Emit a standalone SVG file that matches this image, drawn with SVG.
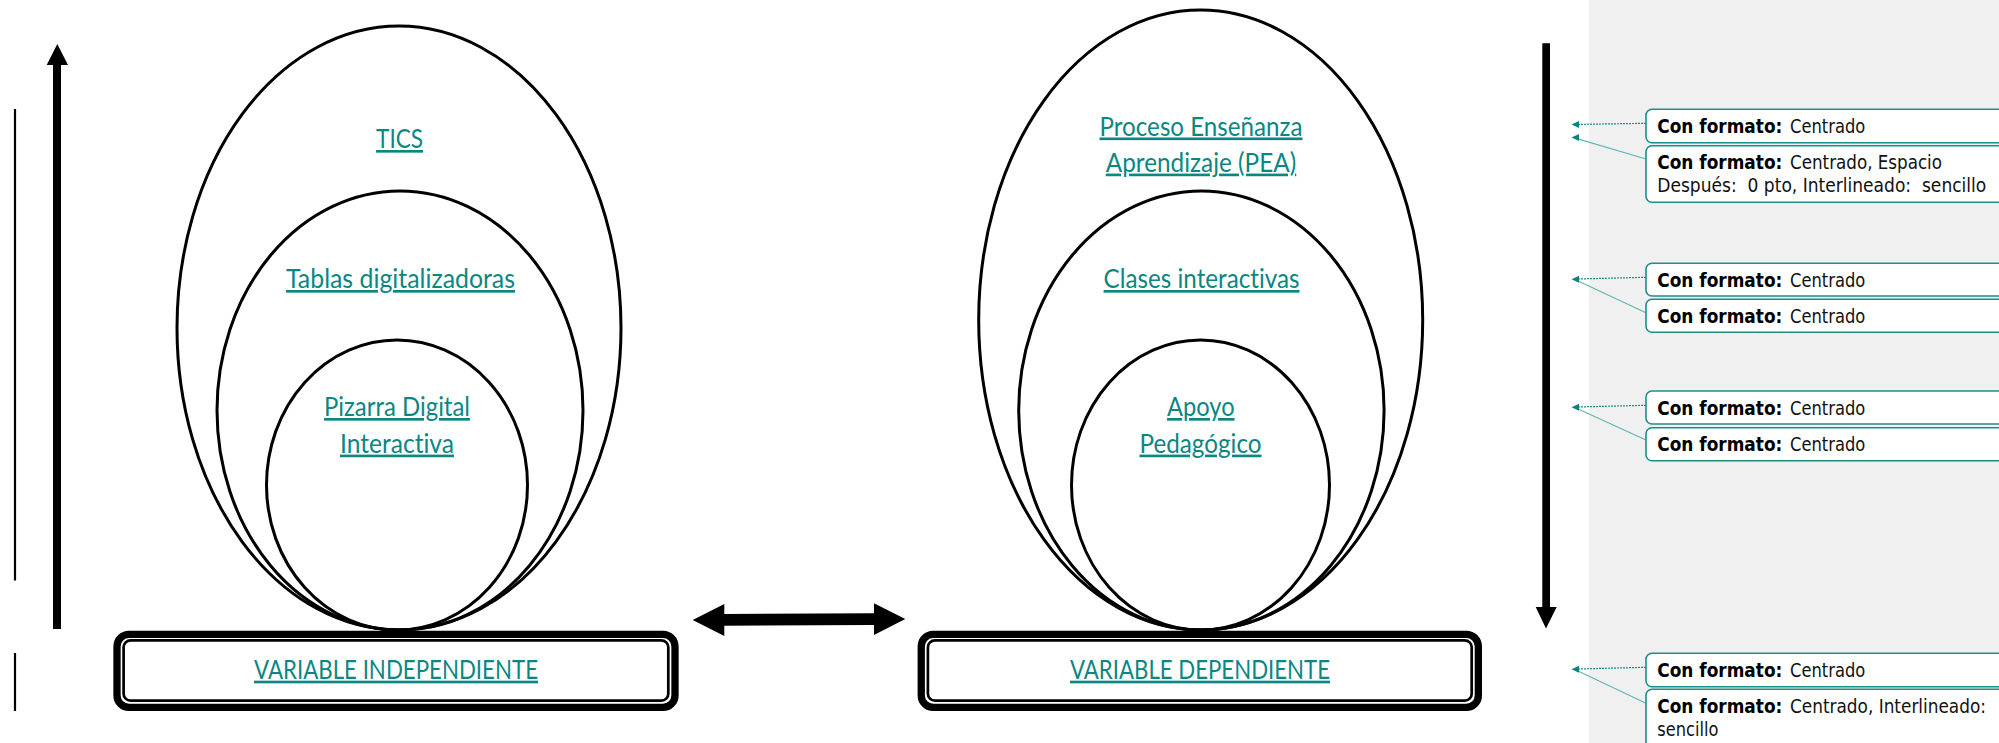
<svg xmlns="http://www.w3.org/2000/svg" width="1999" height="743" viewBox="0 0 1999 743">
  <style>
    .ell { fill: none; stroke: #000; stroke-width: 3; }
    .outerBox { fill: #fff; stroke: #000; stroke-width: 7.3; }
    .innerBox { fill: none; stroke: #000; stroke-width: 2.7; }
    .lbl { font-family: Lato, "Open Sans", "Liberation Sans", sans-serif; font-size: 26.5px; fill: #0b8783; text-decoration: underline; text-anchor: middle; font-variant-ligatures: none; }
    .cbox { fill: #fff; stroke: #1b8f89; stroke-width: 1.6; }
    .ct { font-family: "DejaVu Sans Condensed", "DejaVu Sans", "Liberation Sans", sans-serif; font-size: 19.5px; fill: #111; }
    .cb { font-family: "DejaVu Sans Condensed", "DejaVu Sans", "Liberation Sans", sans-serif; font-size: 19.5px; font-weight: bold; fill: #000; }
    .cl1 { stroke: #1b8f89; stroke-width: 1.2; stroke-dasharray: 2 1; fill: none; }
    .cl2 { stroke: #5fb8b3; stroke-width: 1.2; fill: none; }
    .ah { fill: #0d857f; }
  </style>

  <rect x="0" y="0" width="1999" height="743" fill="#fff"/>
  <rect id="panel" x="1589" y="0" width="410" height="743" fill="#f0f0f0"/>

  <g id="side-lines">
    <line x1="15" y1="109" x2="15" y2="580.5" stroke="#000" stroke-width="2.2"/>
    <line x1="15" y1="653" x2="15" y2="711" stroke="#000" stroke-width="2.2"/>
  </g>

  <g id="connectors">
    <polygon id="up-arrow" points="53,629 53,65 46.7,65 57.3,44 68,65 61,65 61,629" fill="#000"/>
    <polygon id="down-arrow" points="1542.3,43.3 1550,43.3 1550,607 1556.7,607 1546,628.5 1535.7,607 1542.3,607" fill="#000"/>
    <polygon id="double-arrow" points="692.7,620 724.3,604 724.3,614 874,613.3 874,603.3 905.3,619 874,635 874,625 724.3,625.7 724.3,636" fill="#000"/>
  </g>

  <g id="node-tics">
    <ellipse class="ell" cx="399" cy="328" rx="222" ry="302"/>
    <text class="lbl" x="399.6" y="148" textLength="47" lengthAdjust="spacingAndGlyphs">TICS</text>
  </g>
  <g id="node-tablas">
    <ellipse class="ell" cx="400" cy="410.5" rx="183" ry="219.5"/>
    <text class="lbl" x="400.5" y="288" textLength="229" lengthAdjust="spacingAndGlyphs">Tablas digitalizadoras</text>
  </g>
  <g id="node-pizarra">
    <ellipse class="ell" cx="397" cy="485" rx="130.5" ry="145"/>
    <text class="lbl" x="397" y="416" textLength="146" lengthAdjust="spacingAndGlyphs">Pizarra Digital</text>
    <text class="lbl" x="397" y="452.6" textLength="114" lengthAdjust="spacingAndGlyphs">Interactiva</text>
  </g>
  <g id="node-var-ind">
    <rect class="outerBox" x="117" y="634.4" width="558" height="73" rx="12"/>
    <rect class="innerBox" x="123.6" y="640.35" width="544.7" height="60.3" rx="7"/>
    <text class="lbl" x="396" y="678.7" textLength="284" lengthAdjust="spacingAndGlyphs">VARIABLE INDEPENDIENTE</text>
  </g>

  <g id="node-pea">
    <ellipse class="ell" cx="1200.7" cy="320" rx="222" ry="310"/>
    <text class="lbl" x="1201" y="135.5" textLength="203" lengthAdjust="spacingAndGlyphs">Proceso Enseñanza</text>
    <text class="lbl" x="1201" y="171.6" textLength="190.5" lengthAdjust="spacingAndGlyphs">Aprendizaje (PEA)</text>
  </g>
  <g id="node-clases">
    <ellipse class="ell" cx="1201.4" cy="410.5" rx="182.7" ry="219.5"/>
    <text class="lbl" x="1201.6" y="288" textLength="196" lengthAdjust="spacingAndGlyphs">Clases interactivas</text>
  </g>
  <g id="node-apoyo">
    <ellipse class="ell" cx="1200.5" cy="485" rx="129" ry="145"/>
    <text class="lbl" x="1200.8" y="416" textLength="67.5" lengthAdjust="spacingAndGlyphs">Apoyo</text>
    <text class="lbl" x="1200.5" y="452.6" textLength="122" lengthAdjust="spacingAndGlyphs">Pedagógico</text>
  </g>
  <g id="node-var-dep">
    <rect class="outerBox" x="921.25" y="634.4" width="557.1" height="73" rx="12"/>
    <rect class="innerBox" x="927.9" y="640.35" width="543.8" height="60.3" rx="7"/>
    <text class="lbl" x="1200" y="678.7" textLength="260" lengthAdjust="spacingAndGlyphs">VARIABLE DEPENDIENTE</text>
  </g>

  <g id="comment-connectors">
    <line class="cl1" x1="1646" y1="123.3" x2="1577" y2="124.4"/>
    <polygon class="ah" points="1571.5,124.5 1579,121 1579,128"/>
    <line class="cl2" x1="1646" y1="159" x2="1577" y2="138.6"/>
    <polygon class="ah" points="1571.5,137.5 1579,134 1579,141"/>

    <line class="cl1" x1="1646" y1="277.3" x2="1577" y2="279"/>
    <line class="cl2" x1="1646" y1="312.7" x2="1577" y2="280.5"/>
    <polygon class="ah" points="1571.5,279.3 1579,275.8 1579,282.8"/>

    <line class="cl1" x1="1646" y1="405.3" x2="1577" y2="407"/>
    <line class="cl2" x1="1646" y1="440" x2="1577" y2="408.5"/>
    <polygon class="ah" points="1571.5,407.3 1579,403.8 1579,410.8"/>

    <line class="cl1" x1="1646" y1="667.3" x2="1577" y2="669"/>
    <line class="cl2" x1="1646" y1="703.3" x2="1577" y2="670.5"/>
    <polygon class="ah" points="1571.5,669.3 1579,665.8 1579,672.8"/>
  </g>

  <g id="comment-1">
    <rect class="cbox" x="1646" y="109.3" width="400" height="33.4" rx="6"/>
    <text class="cb" x="1657.3" y="133.3" textLength="125" lengthAdjust="spacingAndGlyphs">Con formato:</text>
    <text class="ct" x="1790" y="133.3" textLength="75.3" lengthAdjust="spacingAndGlyphs">Centrado</text>
  </g>
  <g id="comment-2">
    <rect class="cbox" x="1646" y="145.7" width="400" height="56.6" rx="6"/>
    <text class="cb" x="1657.3" y="169.3" textLength="125" lengthAdjust="spacingAndGlyphs">Con formato:</text>
    <text class="ct" x="1790" y="169.3" textLength="152" lengthAdjust="spacingAndGlyphs">Centrado, Espacio</text>
    <text class="ct" x="1657.3" y="192" xml:space="preserve" textLength="329" lengthAdjust="spacingAndGlyphs">Después:  0 pto, Interlineado:  sencillo</text>
  </g>
  <g id="comment-3">
    <rect class="cbox" x="1646" y="263.3" width="400" height="32.7" rx="6"/>
    <text class="cb" x="1657.3" y="286.7" textLength="125" lengthAdjust="spacingAndGlyphs">Con formato:</text>
    <text class="ct" x="1790" y="286.7" textLength="75.3" lengthAdjust="spacingAndGlyphs">Centrado</text>
  </g>
  <g id="comment-4">
    <rect class="cbox" x="1646" y="299.3" width="400" height="33" rx="6"/>
    <text class="cb" x="1657.3" y="322.7" textLength="125" lengthAdjust="spacingAndGlyphs">Con formato:</text>
    <text class="ct" x="1790" y="322.7" textLength="75.3" lengthAdjust="spacingAndGlyphs">Centrado</text>
  </g>
  <g id="comment-5">
    <rect class="cbox" x="1646" y="391" width="400" height="33" rx="6"/>
    <text class="cb" x="1657.3" y="414.7" textLength="125" lengthAdjust="spacingAndGlyphs">Con formato:</text>
    <text class="ct" x="1790" y="414.7" textLength="75.3" lengthAdjust="spacingAndGlyphs">Centrado</text>
  </g>
  <g id="comment-6">
    <rect class="cbox" x="1646" y="427.7" width="400" height="33" rx="6"/>
    <text class="cb" x="1657.3" y="450.7" textLength="125" lengthAdjust="spacingAndGlyphs">Con formato:</text>
    <text class="ct" x="1790" y="450.7" textLength="75.3" lengthAdjust="spacingAndGlyphs">Centrado</text>
  </g>
  <g id="comment-7">
    <rect class="cbox" x="1646" y="653.3" width="400" height="33.4" rx="6"/>
    <text class="cb" x="1657.3" y="677.3" textLength="125" lengthAdjust="spacingAndGlyphs">Con formato:</text>
    <text class="ct" x="1790" y="677.3" textLength="75.3" lengthAdjust="spacingAndGlyphs">Centrado</text>
  </g>
  <g id="comment-8">
    <rect class="cbox" x="1646" y="689.3" width="400" height="70" rx="6"/>
    <text class="cb" x="1657.3" y="713.3" textLength="125" lengthAdjust="spacingAndGlyphs">Con formato:</text>
    <text class="ct" x="1790" y="713.3" textLength="196" lengthAdjust="spacingAndGlyphs">Centrado, Interlineado:</text>
    <text class="ct" x="1657.3" y="736" textLength="61" lengthAdjust="spacingAndGlyphs">sencillo</text>
  </g>
</svg>
